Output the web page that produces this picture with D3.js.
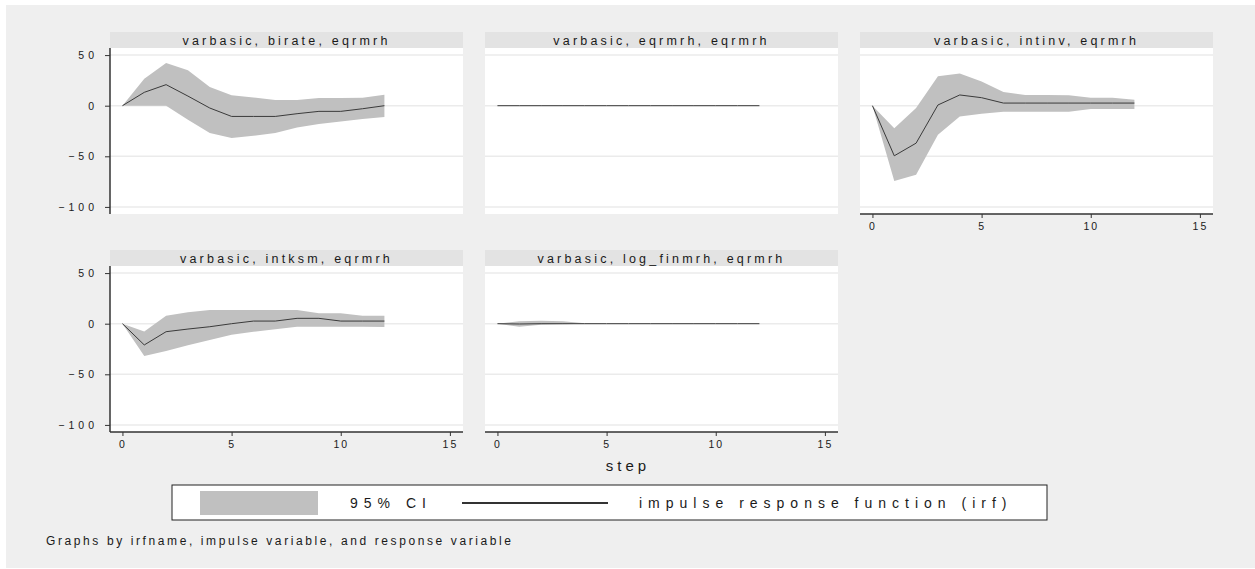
<!DOCTYPE html>
<html><head><meta charset="utf-8">
<script src="https://cdn.jsdelivr.net/npm/d3@7"></script>
<style>
body{margin:0;background:#fff;}
text{font-family:"Liberation Sans",Arial,sans-serif;fill:#1a1a1a;}
</style></head>
<body><svg id="c" width="1255" height="569"></svg>
<script>
// ---- data ----
const steps = [0,1,2,3,4,5,6,7,8,9,10,11,12];
const panelTitles = ["varbasic, birate, eqrmrh","varbasic, eqrmrh, eqrmrh","varbasic, intinv, eqrmrh","varbasic, intksm, eqrmrh","varbasic, log_finmrh, eqrmrh"];
const irfBirate   = [0,13.2,20.8,9.5,-2.3,-10.6,-10.6,-10.6,-7.9,-5.6,-5.6,-3,0];
const upBirate    = [0,26.7,42.3,35,18.5,10.2,8.2,5.6,5.6,7.6,7.6,7.9,10.9];
const loBirate    = [0,0,0,-13.9,-27,-32,-29.7,-27,-21.5,-18.2,-15.5,-13.2,-11.2];
const irfEqrmrh   = [0,0,0,0,0,0,0,0,0,0,0,0,0];
const upEqrmrh    = [0,0,0,0,0,0,0,0,0,0,0,0,0];
const loEqrmrh    = [0,0,0,0,0,0,0,0,0,0,0,0,0];
const irfIntinv   = [0,-49.5,-37,0.7,10.6,7.9,2.6,2.6,2.6,2.6,2.6,2.6,2.6];
const upIntinv    = [0,-22.4,-2.3,29,31.7,24,13.5,10.6,10.6,10.2,7.9,7.9,5.9];
const loIntinv    = [0,-74.3,-68.3,-28.7,-10.6,-7.9,-5.9,-5.9,-5.9,-5.9,-3.3,-3.3,-3.3];
const irfIntksm   = [0,-21,-7.9,-5.3,-3,0,2.6,2.6,5.3,5.3,2.6,2.6,2.6];
const upIntksm    = [0,-7.6,7.9,11.2,13.5,13.5,13.5,13.5,13.5,10.2,10.2,7.9,7.9];
const loIntksm    = [0,-32,-27,-21.4,-16,-10.8,-7.9,-5.6,-3,-3,-3,-3,-3.3];
const irfLogfin   = [0,-0.3,0,0,0,0,0,0,0,0,0,0,0];
const upLogfin    = [0,2.5,3,2.5,0.5,0,0,0,0,0,0,0,0];
const loLogfin    = [0,-3,-1,-0.5,0,0,0,0,0,0,0,0,0];
const yTicks = [50,0,-50,-100];
const xTicks = [0,5,10,15];
const legendLabels = ["95% CI","impulse response function (irf)"];
const xTitle = "step";
const note = "Graphs by irfname, impulse variable, and response variable";

const panels = [
  {irf:irfBirate, up:upBirate, lo:loBirate, col:0,row:0, yaxis:true, xaxis:false},
  {irf:irfEqrmrh, up:upEqrmrh, lo:loEqrmrh, col:1,row:0, yaxis:false,xaxis:false},
  {irf:irfIntinv, up:upIntinv, lo:loIntinv, col:2,row:0, yaxis:false,xaxis:true},
  {irf:irfIntksm, up:upIntksm, lo:loIntksm, col:0,row:1, yaxis:true, xaxis:true},
  {irf:irfLogfin, up:upLogfin, lo:loLogfin, col:1,row:1, yaxis:false,xaxis:true}
];

const svg = d3.select("#c");
svg.append("rect").attr("x",6).attr("y",5).attr("width",1249).attr("height",563).attr("fill","#efefef");

const colX = [110,485,860], panelW = 353;
const titleTop = [32,250], titleH = 16;
const plotH = 166;

panels.forEach((p,i)=>{
  const x0 = colX[p.col];
  const tTop = titleTop[p.row];
  const pTop = tTop + titleH;
  const g = svg.append("g").attr("transform",`translate(${x0},${pTop})`);
  const x = d3.scaleLinear().domain([-0.57,15.6]).range([0,panelW]);
  const y = d3.scaleLinear().domain([57,-107]).range([0,plotH]);
  svg.append("rect").attr("x",x0).attr("y",tTop).attr("width",panelW).attr("height",titleH).attr("fill","#e3e3e3");
  svg.append("text").attr("x",x0+panelW/2).attr("y",tTop+12.5).attr("text-anchor","middle")
    .style("font-size","12.5px").style("letter-spacing","3.2px").text(panelTitles[i]);
  g.append("rect").attr("width",panelW).attr("height",plotH).attr("fill","#fff");
  g.selectAll(".grid").data(yTicks).join("line")
    .attr("x1",0).attr("x2",panelW).attr("y1",d=>y(d)).attr("y2",d=>y(d))
    .attr("stroke","#ebebeb").attr("stroke-width",1.5);
  const data = steps.map((s,k)=>({s,irf:p.irf[k],up:p.up[k],lo:p.lo[k]}));
  g.append("path").datum(data).attr("fill","#c0c0c0")
    .attr("d",d3.area().x(d=>x(d.s)).y0(d=>y(d.lo)).y1(d=>y(d.up)));
  g.append("path").datum(data).attr("fill","none").attr("stroke","#3a3a3a").attr("stroke-width",1)
    .attr("d",d3.line().x(d=>x(d.s)).y(d=>y(d.irf)));
  if(p.yaxis){
    const ax = g.append("g").call(d3.axisLeft(y).tickValues(yTicks).tickSize(5).tickPadding(7).tickFormat(d3.format("d")));
    ax.select(".domain").attr("stroke","#333").attr("stroke-width",1.5).attr("d",`M0,0V${plotH}`);
    ax.selectAll(".tick line").attr("stroke","#333");
    ax.selectAll("text").style("font-size","10.5px").style("letter-spacing","4px").attr("fill","#1a1a1a").style("font-family","'Liberation Sans',Arial,sans-serif");
  }
  if(p.xaxis){
    const ax = g.append("g").attr("transform",`translate(0,${plotH})`)
      .call(d3.axisBottom(x).tickValues(xTicks).tickSize(4).tickPadding(5).tickFormat(d3.format("d")));
    ax.select(".domain").attr("stroke","#333").attr("stroke-width",1.5).attr("d",`M0,0H${panelW}`);
    ax.selectAll(".tick line").attr("stroke","#333");
    ax.selectAll("text").style("font-size","10.5px").style("letter-spacing","2px").attr("fill","#1a1a1a").style("font-family","'Liberation Sans',Arial,sans-serif");
  }
});

svg.append("text").attr("x",628).attr("y",471).attr("text-anchor","middle")
  .style("font-size","15px").style("letter-spacing","4px").text(xTitle);
const lg = svg.append("g");
lg.append("rect").attr("x",172).attr("y",485).attr("width",875).attr("height",35).attr("fill","#fff").attr("stroke","#222").attr("stroke-width",1);
lg.append("rect").attr("x",200).attr("y",491).attr("width",118).attr("height",24).attr("fill","#c0c0c0");
lg.append("text").attr("x",350).attr("y",508).style("font-size","14px").style("letter-spacing","6px").text(legendLabels[0]);
lg.append("line").attr("x1",462).attr("x2",608).attr("y1",503).attr("y2",503).attr("stroke","#333").attr("stroke-width",2);
lg.append("text").attr("x",639).attr("y",508).style("font-size","14px").style("letter-spacing","6px").text(legendLabels[1]);
svg.append("text").attr("x",46).attr("y",545).style("font-size","12px").style("letter-spacing","2.6px").text(note);
</script></body></html>
